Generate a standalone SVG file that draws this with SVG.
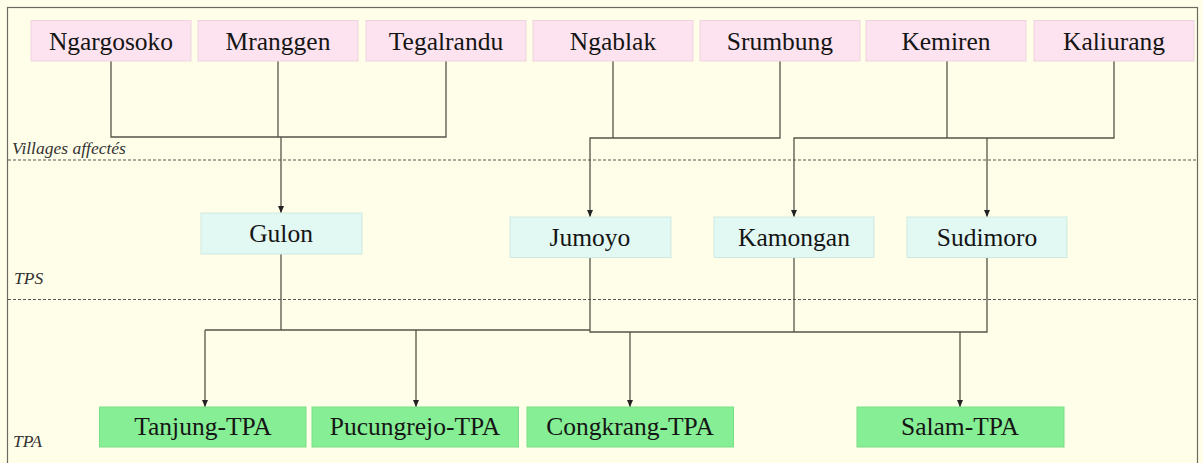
<svg xmlns="http://www.w3.org/2000/svg" width="1203" height="463" viewBox="0 0 1203 463">
<style>
.bg{fill:#FFFEE8}
.frame{fill:none;stroke:#6a6a60;stroke-width:1.2}
.sep{stroke:#555;stroke-width:1;stroke-dasharray:3,2;fill:none}
.village{fill:#FCE3EF;stroke:#EFD3DF;stroke-width:1}
.tps{fill:#E2F8F2;stroke:#CFE9E2;stroke-width:1}
.tpa{fill:#86EE94;stroke:#7ADF88;stroke-width:1}
.lbl{font-family:"Liberation Serif","Times New Roman",serif;font-size:25.5px;fill:#151515;text-anchor:middle}
.zone{font-family:"Liberation Serif","Times New Roman",serif;font-style:italic;font-size:17.5px;fill:#333}
.conn path{fill:none;stroke:#55554a;stroke-width:1.3}
.conn path.arr{marker-end:url(#ah)}
</style>
<defs>
<marker id="ah" markerUnits="userSpaceOnUse" markerWidth="7" markerHeight="7" refX="7" refY="3" orient="auto">
<path d="M0,0 L7,3 L0,6 z" fill="#222"/>
</marker>
</defs>
<rect class="bg" x="0" y="0" width="1203" height="463"/>
<rect class="frame" x="7.5" y="7.5" width="1190" height="470"/>
<path class="sep" d="M8,160 H1197"/>
<path class="sep" d="M8,299.5 H1197"/>
<text class="zone" x="12" y="154">Villages affectés</text>
<text class="zone" x="14" y="284">TPS</text>
<text class="zone" x="13" y="447">TPA</text>

<g id="connectors" class="conn">
<path d="M111,61 V137 H446 V61"/>
<path d="M278,61 V137"/>
<path class="arr" d="M281,137 V213"/>
<path d="M613,61 V138"/>
<path class="arr" d="M780,61 V138 H590 V217"/>
<path d="M947,61 V138"/>
<path class="arr" d="M1114,61 V138 H794 V217"/>
<path class="arr" d="M987,138 V217"/>
<path d="M281,254 V330"/>
<path d="M205,330 H590"/>
<path class="arr" d="M205,330 V407"/>
<path class="arr" d="M416,330 V407"/>
<path d="M590,257 V332 H987 V257"/>
<path d="M794,257 V332"/>
<path class="arr" d="M630,332 V407"/>
<path class="arr" d="M960,332 V407"/>
</g>

<g id="ngargosoko"><rect class="village" x="31" y="20.5" width="160" height="40.5"/><text class="lbl" x="111" y="50">Ngargosoko</text></g>
<g id="mranggen"><rect class="village" x="198" y="20.5" width="160" height="40.5"/><text class="lbl" x="278" y="50">Mranggen</text></g>
<g id="tegalrandu"><rect class="village" x="366" y="20.5" width="160" height="40.5"/><text class="lbl" x="446" y="50">Tegalrandu</text></g>
<g id="ngablak"><rect class="village" x="533" y="20.5" width="160" height="40.5"/><text class="lbl" x="613" y="50">Ngablak</text></g>
<g id="srumbung"><rect class="village" x="700" y="20.5" width="160" height="40.5"/><text class="lbl" x="780" y="50">Srumbung</text></g>
<g id="kemiren"><rect class="village" x="866" y="20.5" width="160" height="40.5"/><text class="lbl" x="946" y="50">Kemiren</text></g>
<g id="kaliurang"><rect class="village" x="1034" y="20.5" width="160" height="40.5"/><text class="lbl" x="1114" y="50">Kaliurang</text></g>

<g id="gulon"><rect class="tps" x="201" y="213" width="161" height="41"/><text class="lbl" x="281" y="242">Gulon</text></g>
<g id="jumoyo"><rect class="tps" x="510" y="217" width="161" height="40.5"/><text class="lbl" x="590" y="246">Jumoyo</text></g>
<g id="kamongan"><rect class="tps" x="714" y="217" width="160" height="40.5"/><text class="lbl" x="794" y="246">Kamongan</text></g>
<g id="sudimoro"><rect class="tps" x="907" y="217" width="160" height="40.5"/><text class="lbl" x="987" y="246">Sudimoro</text></g>

<g id="tanjung-tpa"><rect class="tpa" x="99.5" y="407" width="206.5" height="40"/><text class="lbl" x="203" y="435">Tanjung-TPA</text></g>
<g id="pucungrejo-tpa"><rect class="tpa" x="312" y="407" width="206.5" height="40"/><text class="lbl" x="415" y="435">Pucungrejo-TPA</text></g>
<g id="congkrang-tpa"><rect class="tpa" x="527" y="407" width="206.5" height="40"/><text class="lbl" x="630" y="435">Congkrang-TPA</text></g>
<g id="salam-tpa"><rect class="tpa" x="857" y="407" width="207" height="40"/><text class="lbl" x="960" y="435">Salam-TPA</text></g>
</svg>
